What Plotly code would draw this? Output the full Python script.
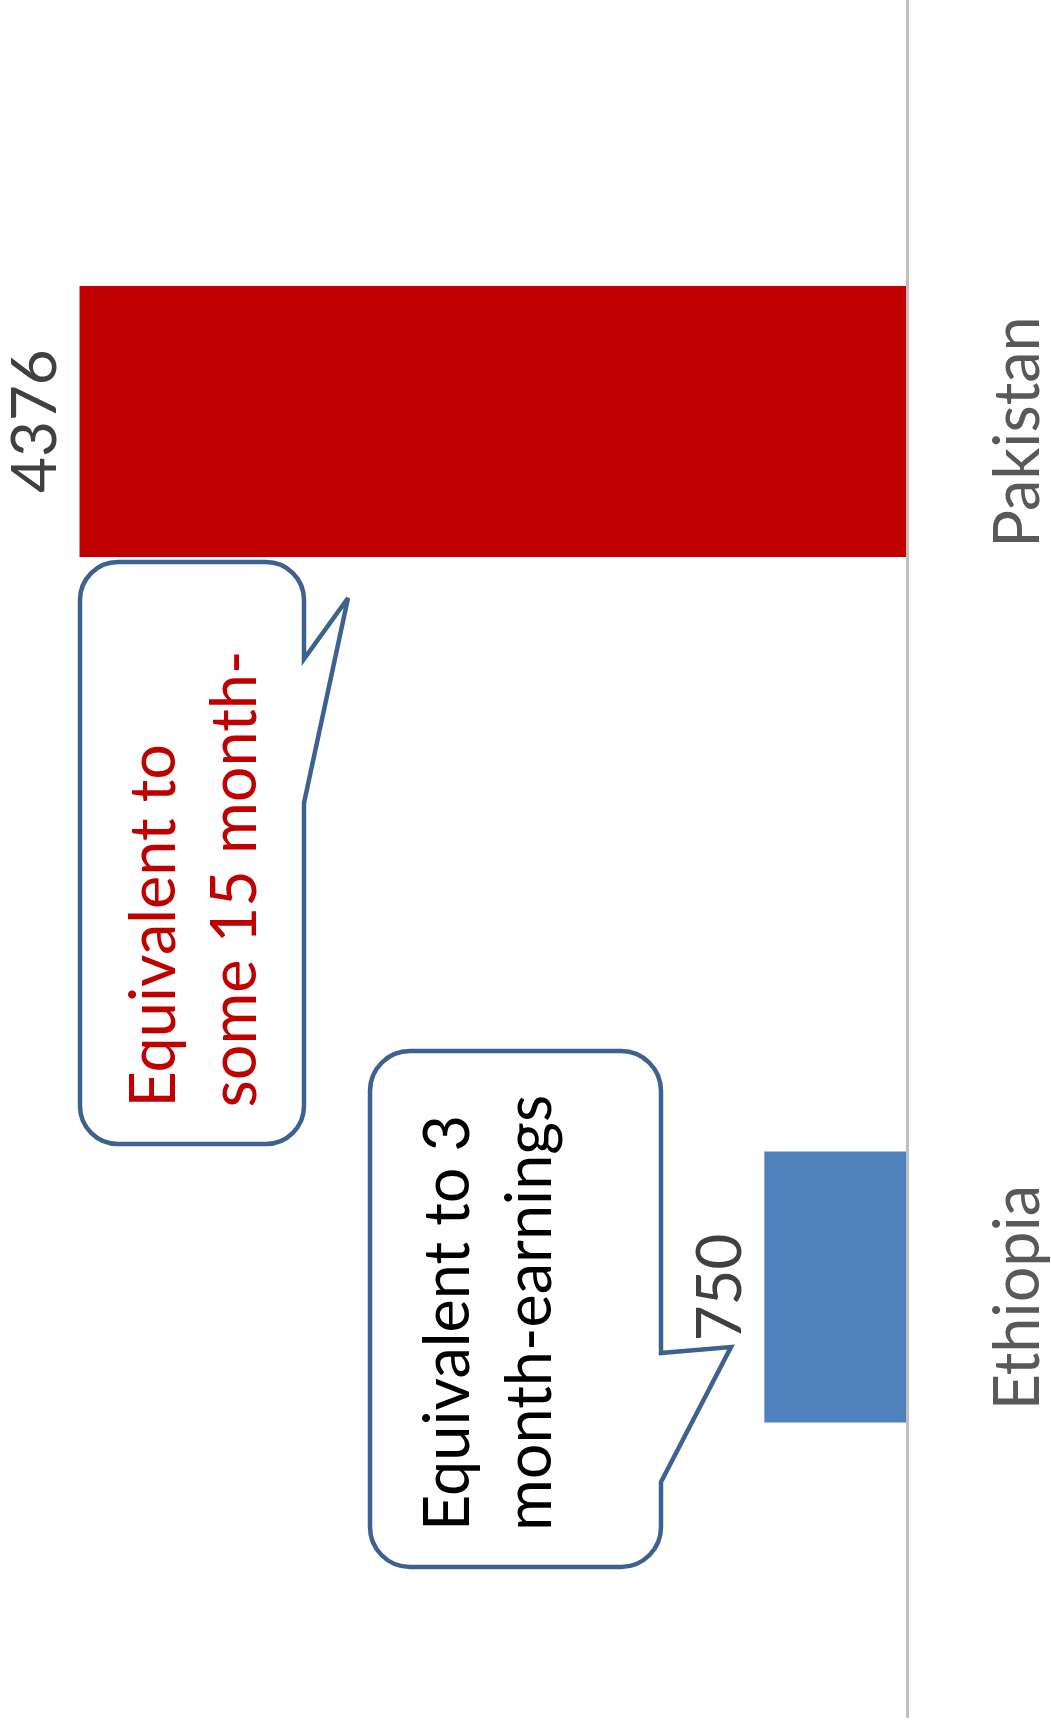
import plotly.graph_objects as go

# Chart data
categories = ["Pakistan", "Ethiopia"]
values = [4376, 750]
bar_colors = ["#C00000", "#4F81BD"]
value_labels = [str(v) for v in values]

note_texts = ["Equivalent to<br>some 15 month-", "Equivalent to 3<br>month-earnings"]
note_colors = ["#C00000", "#000000"]

# Page / plot geometry (pixels)
W, H = 1051, 1733
M_L, M_R, M_T, M_B = 0, 145, 0, 15
PW = W - M_L - M_R
PH = H - M_T - M_B

FONT = "Lato"
FS = 63
FS_VAL = 62


def px(x):
    return (x - M_L) / PW


def py(y):
    return 1 - (y - M_T) / PH


def callout_path(left, top, right, bottom, r, p_top, tip, p_bot):
    k = 0.5523 * r
    pts = [
        ("M", [(left + r, top)]),
        ("L", [(right - r, top)]),
        ("C", [(right - r + k, top), (right, top + r - k), (right, top + r)]),
        ("L", [(right, p_top)]),
        ("L", [tip]),
        ("L", [(right, p_bot)]),
        ("L", [(right, bottom - r)]),
        ("C", [(right, bottom - r + k), (right - r + k, bottom), (right - r, bottom)]),
        ("L", [(left + r, bottom)]),
        ("C", [(left + r - k, bottom), (left, bottom - r + k), (left, bottom - r)]),
        ("L", [(left, top + r)]),
        ("C", [(left, top + r - k), (left + r - k, top), (left + r, top)]),
    ]
    s = ""
    for cmd, ps in pts:
        s += cmd + " " + " ".join(f"{px(a):.5f},{py(b):.5f}" for a, b in ps) + " "
    return s + "Z"


# speech-bubble boxes: (left, top, right, bottom, radius, pointer top, tip, pointer bottom)
bubbles = [
    (80, 562, 304, 1144, 38, 659, (348, 598), 803),
    (370, 1051, 661, 1567, 40, 1353, (731, 1347), 1482),
]
# text placement inside each bubble: (center x, line start y)
note_pos = [(191, 1109), (485, 1532)]

fig = go.Figure()
fig.add_trace(go.Bar(
    x=values,
    y=categories,
    orientation="h",
    marker=dict(color=bar_colors, line=dict(width=0)),
    width=0.313,
    hoverinfo="skip",
))

shapes = []
for b in bubbles:
    shapes.append(dict(
        type="path", xref="paper", yref="paper",
        path=callout_path(*b),
        fillcolor="white",
        line=dict(color="#3E6190", width=4.5),
        layer="above",
    ))

annotations = []
for c, v, lab in zip(categories, values, value_labels):
    annotations.append(dict(
        x=v, y=c, xref="x", yref="y", text=lab, showarrow=False,
        textangle=-90, xanchor="center", yanchor="middle", xshift=-47,
        font=dict(family=FONT, size=FS_VAL, color="#404040"),
    ))

for t, col, (cx, y0) in zip(note_texts, note_colors, note_pos):
    annotations.append(dict(
        x=px(cx), y=py(y0), xref="paper", yref="paper", text=t,
        showarrow=False, textangle=-90, align="left",
        xanchor="center", yanchor="bottom", borderpad=0,
        font=dict(family=FONT, size=FS, color=col),
    ))

fig.update_layout(
    width=W, height=H,
    margin=dict(l=M_L, r=M_R, t=M_T, b=M_B, pad=0, autoexpand=False),
    paper_bgcolor="white", plot_bgcolor="white",
    showlegend=False,
    xaxis=dict(range=[906 / 0.188866, 0], visible=False, showgrid=False,
               zeroline=False, automargin=False),
    yaxis=dict(
        type="category", categoryorder="array", categoryarray=categories,
        range=[1.498, -0.487], side="right", automargin=False,
        showline=True, linecolor="#BFBFBF", linewidth=2.5,
        showgrid=False, zeroline=False, ticks="",
        tickangle=-90, ticklabelstandoff=55, ticklabelshift=-20,
        tickfont=dict(family=FONT, size=FS, color="#595959"),
    ),
    shapes=shapes,
    annotations=annotations,
)

fig.write_html("out.html")
